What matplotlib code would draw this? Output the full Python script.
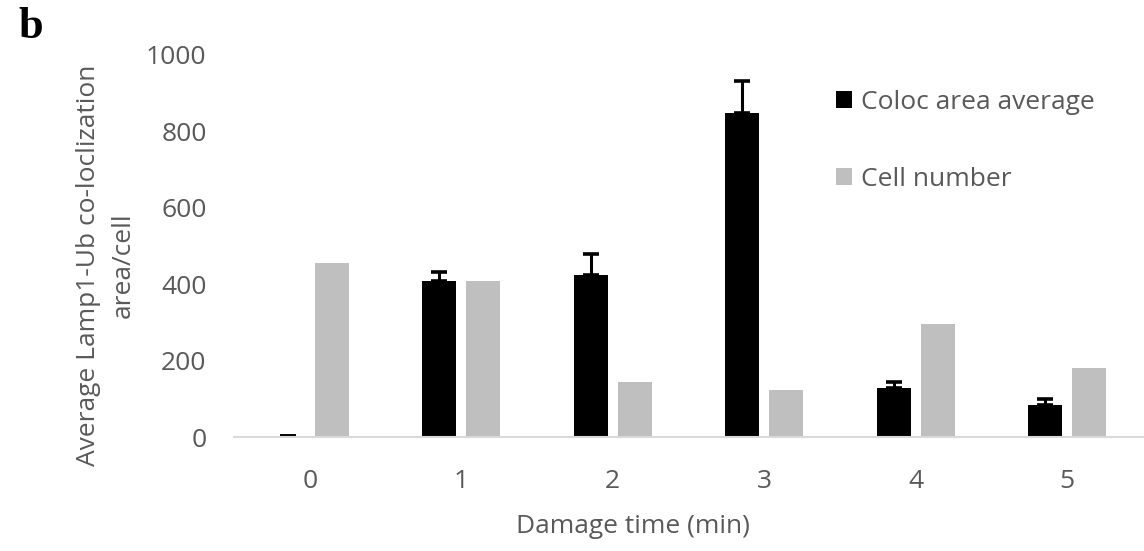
import matplotlib
matplotlib.use("Agg")
import matplotlib.pyplot as plt
import numpy as np

# Data
categories = ["0", "1", "2", "3", "4", "5"]
coloc_area_avg = [3, 409, 425, 847, 128, 84]
coloc_area_err = [0, 24, 53, 85, 16, 15]
cell_number = [456, 409, 144, 124, 297, 182]
series_labels = ["Coloc area average", "Cell number"]
y_ticks = [0, 200, 400, 600, 800, 1000]

TEXT = "#595959"
GREY = "#bfbfbf"
FS = 19
plt.rcParams["font.family"] = ["Open Sans", "DejaVu Sans"]

W, H = 1144, 551
fig = plt.figure(figsize=(W / 100, H / 100), dpi=100)
ax = fig.add_axes([234.3 / W, 1 - 437.3 / H, 908.4 / W, 382.5 / H])

x = np.arange(len(categories))
bw = 0.225
off = 0.145

ax.bar(x - off, coloc_area_avg, bw, color="black", label=series_labels[0],
       yerr=[np.zeros(len(x)), coloc_area_err],
       error_kw=dict(ecolor="black", elinewidth=2.2, capsize=5.5, capthick=2.6))
ax.bar(x + off, cell_number, bw, color=GREY, label=series_labels[1])

ax.set_xlim(-0.5, len(categories) - 0.5)
ax.set_ylim(0, 1000)
ax.set_yticks(y_ticks)
ax.set_xticks(x)
ax.set_xticklabels(categories)

for s in ["top", "right", "left"]:
    ax.spines[s].set_visible(False)
ax.spines["bottom"].set_color("#d9d9d9")
ax.spines["bottom"].set_linewidth(1.5)
ax.tick_params(axis="both", length=0, labelsize=FS, labelcolor=TEXT)
ax.tick_params(axis="y", pad=20)
ax.tick_params(axis="x", pad=23)

ax.set_xlabel("Damage time (min)", fontsize=FS, color=TEXT, va="center")
ax.xaxis.set_label_coords(0.439, -0.2345)
ax.set_ylabel("Average Lamp1-Ub co-loclization\narea/cell", fontsize=FS,
              color=TEXT, va="center", ha="center", linespacing=1.5)
ax.yaxis.set_label_coords(-0.1412, 0.4505)

leg = ax.legend(loc="upper left", bbox_to_anchor=(836 / W, 1 - 90 / H),
                bbox_transform=fig.transFigure, frameon=False, fontsize=FS,
                handlelength=0.61, handleheight=0.61, handletextpad=0.32,
                labelspacing=1.98, borderpad=0, borderaxespad=0)
for t in leg.get_texts():
    t.set_color(TEXT)

fig.text(18 / W, 1 - 27 / H, "b", fontsize=32, fontweight="bold",
         family="Liberation Serif", va="center", ha="left", color="black")

fig.savefig("out.png", dpi=100)
